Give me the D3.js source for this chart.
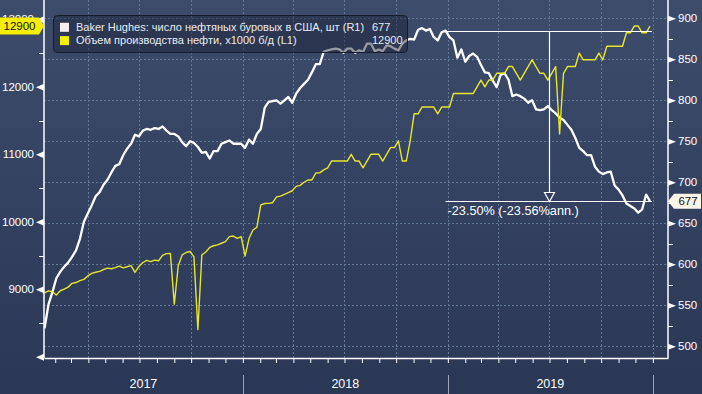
<!DOCTYPE html>
<html>
<head>
<meta charset="utf-8">
<script src="https://cdn.jsdelivr.net/npm/d3@7"></script>
<style>
  html, body { margin: 0; padding: 0; background: #2c3957; }
  svg { display: block; font-family: 'Liberation Sans', Arial, sans-serif; }
</style>
</head>
<body>
<div id="chart"></div>
<script>
// weekly values, every friday starting from this date
var firstWeek = '2017-01-13';

var rigs2017 = [522, 551, 566, 583, 591, 597, 602, 609, 617, 631, 652, 662, 672, 683, 688, 697, 703, 712, 720, 722,
  733, 741, 747, 758, 756, 763, 765, 764, 766, 765, 768, 763, 759, 759, 756, 749, 744, 750, 748, 743, 736, 737,
  729, 738, 738, 747, 749, 751, 747, 747, 747];
var rigs2018 = [742, 752, 747, 759, 765, 791, 798, 799, 800, 796, 800, 804, 797, 808, 815, 820, 825, 834, 844, 844,
  859, 861, 862, 863, 862, 858, 863, 863, 858, 861, 859, 869, 869, 860, 862, 860, 867, 866, 863, 861, 869, 873,
  875, 874, 886, 888, 885, 887, 877, 873, 883, 885];
var rigs2019 = [877, 873, 852, 862, 847, 854, 857, 853, 843, 834, 833, 824, 816, 831, 833, 825, 805, 807, 805, 802,
  797, 800, 789, 788, 789, 793, 788, 784, 779, 776, 770, 764, 754, 742, 738, 733, 733, 719, 713, 710, 712, 713,
  696, 691, 684, 674, 671, 668, 663, 667, 685, 677];

var prod2017 = [8946, 8977, 8963, 8915, 8978, 9001, 9032, 9088, 9100, 9129, 9147, 9198, 9235, 9252, 9265, 9293,
  9314, 9305, 9320, 9342, 9318, 9334, 9350, 9250, 9338, 9397, 9429, 9410, 9432, 9423, 9502, 9528, 9530, 8781,
  9350, 9510, 9545, 9560, 9480, 8402, 9507, 9553, 9620, 9645, 9658, 9682, 9707, 9780, 9789, 9754, 9782];
var prod2018 = [9492, 9752, 9878, 9919, 10250, 10271, 10273, 10283, 10369, 10381, 10407, 10433, 10460, 10525,
  10540, 10586, 10619, 10620, 10723, 10725, 10769, 10800, 10900, 10900, 10900, 10900, 10900, 11000, 10900, 10900,
  10800, 10900, 11000, 11000, 11000, 10900, 11000, 11100, 11100, 11200, 10900, 10900, 11200, 11600, 11600, 11700,
  11700, 11700, 11700, 11600, 11700, 11700];
var prod2019 = [11700, 11900, 11900, 11900, 11900, 11900, 11900, 12000, 12100, 12000, 12100, 12100, 12200, 12200,
  12200, 12300, 12300, 12200, 12100, 12200, 12300, 12400, 12300, 12200, 12200, 12100, 12200, 12300, 11300, 12200,
  12300, 12300, 12300, 12500, 12400, 12400, 12400, 12400, 12500, 12400, 12600, 12600, 12600, 12600, 12600, 12800,
  12800, 12900, 12900, 12800, 12800, 12900];

var legendLabels = ['Baker Hughes: число нефтяных буровых в США, шт (R1)', 'Объем производства нефти, x1000 б/д (L1)'];
var leftTicks = [8000, 9000, 10000, 11000, 12000, 13000];
var leftMinor = [8500, 9500, 10500, 11500, 12500];
var rightTicks = [500, 550, 600, 650, 700, 750, 800, 850, 900];
var rightMinor = [525, 575, 625, 675, 725, 775, 825, 875];
var years = [2017, 2018, 2019];

var width = 702, height = 394;
var plot = { left: 44, right: 668, top: 0, bottom: 358 };

var rigs = rigs2017.concat(rigs2018, rigs2019);
var prod = prod2017.concat(prod2018, prod2019);
var start = d3.utcParse('%Y-%m-%d')(firstWeek);
var dates = rigs.map((v, i) => d3.utcDay.offset(start, i * 7));

var x = d3.scaleUtc()
  .domain([new Date(Date.UTC(2017, 0, 12)), new Date(Date.UTC(2020, 0, 28))])
  .range([plot.left, plot.right]);
var yL = d3.scaleLinear().domain([7982, 13286]).range([plot.bottom, plot.top]);
var yR = d3.scaleLinear().domain([485.7, 922.3]).range([plot.bottom, plot.top]);

var svg = d3.select('#chart').append('svg')
  .attr('width', width)
  .attr('height', height);

// background
{
  let grad = svg.append('defs').append('linearGradient')
    .attr('id', 'bg').attr('x1', 0).attr('y1', 0).attr('x2', 0).attr('y2', 1);
  grad.append('stop').attr('offset', '0%').attr('stop-color', '#3e4c6c');
  grad.append('stop').attr('offset', '100%').attr('stop-color', '#2a3755');

  svg.select('defs').append('clipPath').attr('id', 'clip')
    .append('rect')
    .attr('x', plot.left).attr('y', plot.top)
    .attr('width', plot.right - plot.left).attr('height', plot.bottom - plot.top);

  svg.append('rect').attr('width', width).attr('height', height).attr('fill', 'url(#bg)');
}

// grid
{
  let grid = svg.append('g')
    .attr('stroke', '#64799a')
    .attr('stroke-width', 1)
    .attr('stroke-dasharray', '2,2');

  grid.selectAll('.h').data(rightTicks).enter().append('line')
    .attr('x1', plot.left).attr('x2', plot.right)
    .attr('y1', (d) => Math.round(yR(d)) + 0.5).attr('y2', (d) => Math.round(yR(d)) + 0.5);

  grid.selectAll('.v').data(x.ticks(d3.utcMonth.every(3))).enter().append('line')
    .attr('x1', (d) => Math.round(x(d)) + 0.5).attr('x2', (d) => Math.round(x(d)) + 0.5)
    .attr('y1', plot.top).attr('y2', plot.bottom);
}

// series
{
  let g = svg.append('g').attr('clip-path', 'url(#clip)');

  let rigLine = d3.line()
    .x((d, i) => x(dates[i]))
    .y((d) => yR(d));

  let prodLine = d3.line()
    .x((d, i) => x(dates[i]))
    .y((d) => yL(d));

  g.append('path')
    .datum(rigs)
    .attr('d', rigLine)
    .attr('fill', 'none')
    .attr('stroke', '#ffffff')
    .attr('stroke-width', 2.3)
    .attr('stroke-linejoin', 'round');

  g.append('path')
    .datum(prod)
    .attr('d', prodLine)
    .attr('fill', 'none')
    .attr('stroke', '#e6e62c')
    .attr('stroke-width', 1.4)
    .attr('stroke-linejoin', 'round');
}

// change annotation, year over year
{
  let n = rigs.length - 1;
  let from = rigs[n - 52], to = rigs[n];
  let x0 = x(dates[n - 52]), x1 = x(dates[n]) + 2;
  let xm = Math.round((x0 + x1) / 2) + 0.5;
  let y0 = Math.round(yR(from)) + 0.5, y1 = Math.round(yR(to)) + 0.5;
  let days = (dates[n] - dates[n - 52]) / 864e5;
  let pct = (to / from - 1) * 100;
  let ann = (Math.pow(to / from, 365 / days) - 1) * 100;

  let a = svg.append('g').attr('stroke', '#ffffff').attr('stroke-width', 1.2);

  a.append('line').attr('x1', x0).attr('x2', x1).attr('y1', y0).attr('y2', y0);
  a.append('line').attr('x1', x0).attr('x2', x1).attr('y1', y1).attr('y2', y1);
  a.append('line').attr('x1', xm).attr('x2', xm).attr('y1', y0).attr('y2', y1 - 9);
  a.append('path')
    .attr('d', `M${ xm - 5 },${ y1 - 9 }L${ xm + 5 },${ y1 - 9 }L${ xm },${ y1 }Z`)
    .attr('fill', '#34425f');

  svg.append('text')
    .attr('x', x0 + 2)
    .attr('y', y1 + 13.5)
    .attr('font-size', '12.7px')
    .attr('fill', '#ffffff')
    .text(`${ pct.toFixed(2) }% (${ ann.toFixed(2) }%ann.)`);
}

// axes
{
  let bottom = svg.append('g')
    .attr('transform', `translate(0, ${ plot.bottom })`)
    .call(d3.axisBottom(x).ticks(d3.utcMonth.every(1)).tickSize(5).tickSizeOuter(0).tickFormat(''));
  bottom.select('.domain').attr('stroke', '#ffffff').attr('stroke-width', 1.5);
  bottom.selectAll('.tick line').attr('stroke', '#ffffff');

  let left = svg.append('g')
    .attr('transform', `translate(${ plot.left }, 0)`)
    .call(d3.axisLeft(yL).tickValues(leftTicks).tickSize(0).tickPadding(10)
      .tickFormat((d) => d === 8000 ? '' : d));
  left.select('.domain').remove();
  left.selectAll('text').attr('fill', '#ffffff').attr('font-size', '11.5px').attr('font-family', null);
  left.selectAll('.tick').append('path').attr('d', 'M0,-3.5L-8,0L0,3.5Z').attr('fill', '#ffffff');
  left.selectAll('.minor').data(leftMinor).enter().append('line')
    .attr('x1', -5).attr('x2', 0)
    .attr('y1', (d) => Math.round(yL(d)) + 0.5).attr('y2', (d) => Math.round(yL(d)) + 0.5)
    .attr('stroke', '#ffffff');
  svg.append('line')
    .attr('x1', plot.left).attr('x2', plot.left).attr('y1', plot.top).attr('y2', plot.bottom)
    .attr('stroke', '#ffffff').attr('stroke-width', 1.5);

  let right = svg.append('g')
    .attr('transform', `translate(${ plot.right }, 0)`)
    .call(d3.axisRight(yR).tickValues(rightTicks).tickSize(0).tickPadding(10));
  right.select('.domain').remove();
  right.selectAll('text').attr('fill', '#ffffff').attr('font-size', '11.5px').attr('font-family', null);
  right.selectAll('.tick').append('path').attr('d', 'M0,-3L8,0L0,3Z').attr('fill', '#ffffff');
  right.selectAll('.minor').data(rightMinor).enter().append('line')
    .attr('x1', 0).attr('x2', 5)
    .attr('y1', (d) => Math.round(yR(d)) + 0.5).attr('y2', (d) => Math.round(yR(d)) + 0.5)
    .attr('stroke', '#ffffff');
  svg.append('line')
    .attr('x1', plot.right).attr('x2', plot.right).attr('y1', plot.top).attr('y2', plot.bottom)
    .attr('stroke', '#ffffff').attr('stroke-width', 1.5);
}

// years under the axis
{
  let yr = svg.append('g');

  yr.selectAll('line').data(years.map((y) => y + 1)).enter().append('line')
    .attr('x1', (d) => Math.round(x(new Date(Date.UTC(d, 0, 1)))) + 0.5)
    .attr('x2', (d) => Math.round(x(new Date(Date.UTC(d, 0, 1)))) + 0.5)
    .attr('y1', 375).attr('y2', height)
    .attr('stroke', '#9aa3b5');

  yr.selectAll('text').data(years).enter().append('text')
    .attr('x', (d) => (Math.max(x(new Date(Date.UTC(d, 0, 1))), plot.left) + Math.min(x(new Date(Date.UTC(d + 1, 0, 1))), plot.right)) / 2)
    .attr('y', 388)
    .attr('text-anchor', 'middle')
    .attr('font-size', '12.5px')
    .attr('fill', '#ffffff')
    .text((d) => d);
}

// last value tags
{
  let ly = yL(prod[prod.length - 1]);
  svg.append('path')
    .attr('d', `M0,${ ly - 8.5 }L39,${ ly - 8.5 }L44,${ ly }L39,${ ly + 8.5 }L0,${ ly + 8.5 }Z`)
    .attr('fill', '#f5ee00');
  svg.append('text')
    .attr('x', 19.5).attr('y', ly).attr('dy', '.35em')
    .attr('text-anchor', 'middle').attr('font-size', '11.5px').attr('fill', '#111111')
    .text(prod[prod.length - 1]);

  let ry = yR(rigs[rigs.length - 1]);
  svg.append('path')
    .attr('d', `M${ plot.right },${ ry }L${ plot.right + 6 },${ ry - 7.5 }L701,${ ry - 7.5 }L701,${ ry + 7.5 }L${ plot.right + 6 },${ ry + 7.5 }Z`)
    .attr('fill', '#fff6ea');
  svg.append('text')
    .attr('x', 688).attr('y', ry).attr('dy', '.35em')
    .attr('text-anchor', 'middle').attr('font-size', '11.5px').attr('fill', '#111111')
    .text(rigs[rigs.length - 1]);
}

// legend
{
  let lg = svg.append('g');

  lg.append('rect')
    .attr('x', 53.5).attr('y', 15.5).attr('width', 354).attr('height', 37).attr('rx', 4)
    .attr('fill', 'rgba(24, 32, 52, 0.45)')
    .attr('stroke', '#161c2b');

  let rows = [
    { label: legendLabels[0], color: '#f6efef', value: rigs[rigs.length - 1] },
    { label: legendLabels[1], color: '#f2f200', value: prod[prod.length - 1] }
  ];

  let row = lg.selectAll('.row').data(rows).enter().append('g')
    .attr('transform', (d, i) => `translate(0, ${ 27.3 + i * 13.3 })`);

  row.append('rect').attr('x', 60).attr('y', -4.5).attr('width', 9).attr('height', 9).attr('fill', (d) => d.color);
  row.append('text').attr('x', 76).attr('dy', '.35em').attr('font-size', '11px').attr('fill', '#e8ecf2').text((d) => d.label);
  row.append('text').attr('x', 372).attr('dy', '.35em').attr('font-size', '11px').attr('fill', '#e8ecf2').text((d) => d.value);
}
</script>
</body>
</html>
